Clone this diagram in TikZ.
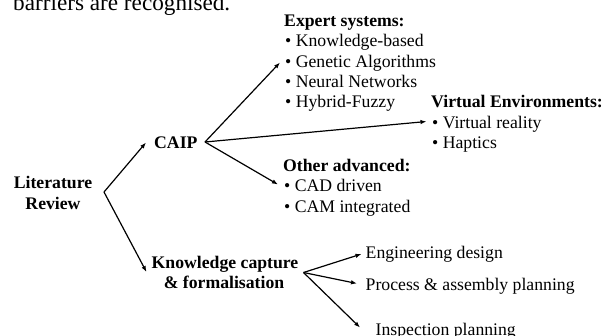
\documentclass[tikz,border=0pt]{standalone}
\usepackage{fontspec}
\setmainfont{Liberation Serif}
\usetikzlibrary{arrows.meta}
\begin{document}
\begin{tikzpicture}[x=1bp,y=-1bp,
  txt/.style={anchor=base west, inner sep=0pt, font=\fontsize{17.7bp}{20.3bp}\selectfont},
  hd/.style={txt, font=\fontsize{17.7bp}{20.3bp}\selectfont\bfseries},
  hdc/.style={hd, anchor=base},
  arr/.style={line width=1.2bp, -{Latex[length=6bp,width=4.5bp]}}]
\useasboundingbox (0,0) rectangle (606,335);
\clip (0,0) rectangle (606,335);
\node[anchor=base west, inner sep=0pt, font=\fontsize{23.2bp}{26bp}\selectfont] (top) at (13,10) {barriers are recognised.};
% left column
\node[hdc] (lit1) at (53,188) {Literature};
\node[hdc] (lit2) at (53,209) {Review};
\node[hd] (caip) at (154,148) {CAIP};
\node[hdc] (kc1) at (225,268) {Knowledge capture};
\node[hdc] (kc2) at (224,288) {\& formalisation};
% expert systems
\node[hd] (exp) at (284,26) {Expert systems:};
\node[txt] (e1) at (285,46.5) {\textbullet\ Knowledge-based};
\node[txt] (e2) at (285,67) {\textbullet\ Genetic Algorithms};
\node[txt] (e3) at (285,87) {\textbullet\ Neural Networks};
\node[txt] (e4) at (285,107.5) {\textbullet\ Hybrid-Fuzzy};
% virtual environments
\node[hd] (ve) at (431,107.5) {Virtual Environments:};
\node[txt] (v1) at (432,128) {\textbullet\ Virtual reality};
\node[txt] (v2) at (432,148.5) {\textbullet\ Haptics};
% other advanced
\node[hd] (oth) at (283,171) {Other advanced:};
\node[txt] (o1) at (284,191.5) {\textbullet\ CAD driven};
\node[txt] (o2) at (284,212) {\textbullet\ CAM integrated};
% knowledge capture targets
\node[txt] (eng) at (365.5,258) {Engineering design};
\node[txt] (proc) at (365.5,290) {Process \& assembly planning};
\node[txt] (insp) at (375.5,335.5) {Inspection planning};
% connector points
\coordinate (litA) at (104,192);
\coordinate (caipIn) at (146,142.5);
\coordinate (kcIn) at (146.5,272);
\coordinate (caipOut) at (205,142);
\coordinate (expIn) at (280,62.5);
\coordinate (veIn) at (426.5,121.5);
\coordinate (othIn) at (278,184.5);
\coordinate (kcOut) at (303.5,272.5);
\coordinate (engIn) at (361.5,254);
\coordinate (procIn) at (357,283.5);
\coordinate (inspIn) at (360,327.5);
\draw[arr] (litA) -- (caipIn);
\draw[arr] (litA) -- (kcIn);
\draw[arr] (caipOut) -- (expIn);
\draw[arr] (caipOut) -- (veIn);
\draw[arr] (caipOut) -- (othIn);
\draw[arr] (kcOut) -- (engIn);
\draw[arr] (kcOut) -- (procIn);
\draw[arr] (kcOut) -- (inspIn);
\end{tikzpicture}
\end{document}
